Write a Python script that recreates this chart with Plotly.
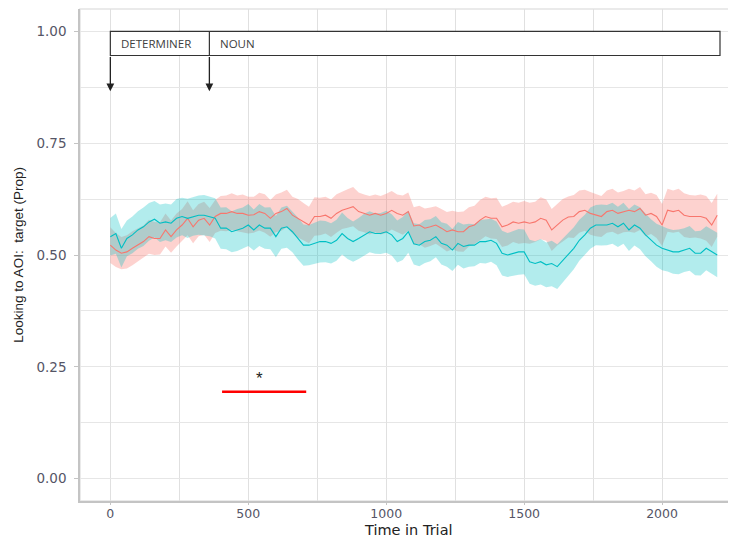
import plotly.graph_objects as go

# ---------------- data ----------------
time_ms = list(range(0, 2201, 20))

red_mean = [0.522, 0.511, 0.504, 0.507, 0.515, 0.522, 0.530, 0.541, 0.537, 0.537, 0.556,
            0.541, 0.556, 0.567, 0.582, 0.563, 0.578, 0.582, 0.567, 0.586, 0.593,
            0.593, 0.597, 0.593, 0.593, 0.589, 0.590, 0.597, 0.593, 0.582, 0.593,
            0.597, 0.604, 0.589, 0.582, 0.574, 0.567, 0.586, 0.586, 0.589, 0.582,
            0.593, 0.600, 0.604, 0.608, 0.597, 0.593, 0.589, 0.593, 0.589, 0.593,
            0.600, 0.593, 0.589, 0.597, 0.565, 0.567, 0.560, 0.563, 0.567, 0.560,
            0.552, 0.556, 0.552, 0.552, 0.563, 0.567, 0.578, 0.586, 0.582, 0.582,
            0.563, 0.567, 0.574, 0.571, 0.574, 0.571, 0.574, 0.582, 0.578, 0.556,
            0.567, 0.578, 0.585, 0.586, 0.597, 0.600, 0.593, 0.589, 0.586, 0.597,
            0.600, 0.593, 0.597, 0.600, 0.597, 0.604, 0.589, 0.593, 0.586, 0.567,
            0.600, 0.597, 0.600, 0.589, 0.586, 0.586, 0.586, 0.582, 0.567, 0.589]

teal_mean = [0.541, 0.548, 0.515, 0.537, 0.545, 0.556, 0.563, 0.574, 0.580, 0.571, 0.574,
             0.571, 0.582, 0.586, 0.582, 0.586, 0.589, 0.589, 0.586, 0.582, 0.560,
             0.560, 0.552, 0.556, 0.560, 0.567, 0.556, 0.567, 0.560, 0.560, 0.541,
             0.560, 0.563, 0.552, 0.537, 0.522, 0.522, 0.526, 0.530, 0.530, 0.526,
             0.533, 0.548, 0.537, 0.530, 0.537, 0.545, 0.552, 0.548, 0.548, 0.552,
             0.545, 0.530, 0.537, 0.552, 0.525, 0.522, 0.530, 0.533, 0.541, 0.526,
             0.522, 0.511, 0.526, 0.519, 0.522, 0.522, 0.530, 0.530, 0.533, 0.526,
             0.504, 0.500, 0.504, 0.507, 0.507, 0.485, 0.481, 0.485, 0.478, 0.481,
             0.474, 0.487, 0.500, 0.515, 0.533, 0.545, 0.560, 0.567, 0.567, 0.567,
             0.571, 0.563, 0.571, 0.556, 0.567, 0.560, 0.545, 0.533, 0.522, 0.515,
             0.511, 0.507, 0.507, 0.511, 0.515, 0.504, 0.504, 0.515, 0.507, 0.500]

red_se = [0.040, 0.038, 0.036, 0.037, 0.038, 0.037, 0.036, 0.038, 0.037, 0.036, 0.037,
          0.036, 0.037, 0.036, 0.038, 0.037, 0.036, 0.037, 0.038, 0.037, 0.039,
          0.040, 0.041, 0.040, 0.042, 0.041, 0.040, 0.042, 0.043, 0.041, 0.042,
          0.043, 0.042, 0.041, 0.043, 0.042, 0.041, 0.043, 0.042, 0.041, 0.042,
          0.043, 0.042, 0.043, 0.044, 0.043, 0.042, 0.043, 0.042, 0.043, 0.044,
          0.043, 0.042, 0.044, 0.043, 0.042, 0.043, 0.044, 0.043, 0.042, 0.043,
          0.044, 0.043, 0.044, 0.045, 0.044, 0.043, 0.045, 0.044, 0.045, 0.046,
          0.045, 0.046, 0.045, 0.046, 0.047, 0.046, 0.045, 0.047, 0.046, 0.047,
          0.046, 0.047, 0.046, 0.048, 0.047, 0.046, 0.048, 0.047, 0.046, 0.047,
          0.048, 0.047, 0.046, 0.048, 0.047, 0.048, 0.047, 0.046, 0.048, 0.047,
          0.048, 0.047, 0.048, 0.049, 0.048, 0.047, 0.049, 0.050, 0.049, 0.048]

teal_se = [0.042, 0.045, 0.043, 0.040, 0.041, 0.042, 0.043, 0.042, 0.041, 0.042, 0.041,
           0.042, 0.043, 0.042, 0.044, 0.043, 0.044, 0.045, 0.044, 0.045, 0.046,
           0.047, 0.046, 0.047, 0.046, 0.047, 0.046, 0.047, 0.046, 0.047, 0.046,
           0.046, 0.047, 0.046, 0.047, 0.046, 0.045, 0.046, 0.047, 0.046, 0.045,
           0.046, 0.047, 0.046, 0.045, 0.046, 0.047, 0.046, 0.045, 0.046, 0.047,
           0.046, 0.047, 0.048, 0.047, 0.046, 0.047, 0.048, 0.047, 0.046, 0.047,
           0.048, 0.047, 0.048, 0.049, 0.048, 0.047, 0.048, 0.049, 0.048, 0.049,
           0.050, 0.049, 0.050, 0.051, 0.050, 0.049, 0.050, 0.051, 0.050, 0.051,
           0.050, 0.049, 0.048, 0.047, 0.046, 0.045, 0.046, 0.045, 0.046, 0.045,
           0.046, 0.045, 0.046, 0.047, 0.046, 0.047, 0.048, 0.047, 0.048, 0.049,
           0.048, 0.049, 0.050, 0.049, 0.050, 0.049, 0.050, 0.049, 0.050, 0.050]

x_ticks = [0, 500, 1000, 1500, 2000]
y_ticks = [0.0, 0.25, 0.5, 0.75, 1.0]
y_tick_labels = ["0.00", "0.25", "0.50", "0.75", "1.00"]

x_title = "Time in Trial"
y_title = "Looking to AOI:  target (Prop)"

# annotation positions (data units)
word_labels = ["DETERMINER", "NOUN"]
word_onsets = [0, 359]
box_end = 2210
box_top, box_bottom = 1.0, 0.946
arrow_tip = 0.866
sig_start, sig_end, sig_y = 405, 710, 0.194
star_x, star_y = 540, 0.225

RED = "#F8766D"
TEAL = "#00BFC4"
TICK_FONT = "DejaVu Sans, Liberation Sans, sans-serif"

fig = go.Figure()

def add_series(mean, se, fill):
    upper = [m + s for m, s in zip(mean, se)]
    lower = [m - s for m, s in zip(mean, se)]
    fig.add_trace(go.Scatter(x=time_ms, y=upper, mode="lines", line=dict(width=0),
                             showlegend=False, hoverinfo="skip"))
    fig.add_trace(go.Scatter(x=time_ms, y=lower, mode="lines", line=dict(width=0),
                             fill="tonexty", fillcolor=fill, showlegend=False, hoverinfo="skip"))

add_series(red_mean, red_se, "rgba(248,118,109,0.33)")
add_series(teal_mean, teal_se, "rgba(0,191,196,0.30)")
fig.add_trace(go.Scatter(x=time_ms, y=red_mean, mode="lines", line=dict(color=RED, width=1.1),
                         showlegend=False))
fig.add_trace(go.Scatter(x=time_ms, y=teal_mean, mode="lines", line=dict(color=TEAL, width=1.1),
                         showlegend=False))

# significance bar
fig.add_trace(go.Scatter(x=[sig_start, sig_end], y=[sig_y, sig_y], mode="lines",
                         line=dict(color="#FF0000", width=2.5), showlegend=False))

shapes = []
shapes.append(dict(type="rect", xref="x", yref="y", x0=word_onsets[0], x1=box_end,
                   y0=box_bottom, y1=box_top, line=dict(color="#333333", width=1.2),
                   fillcolor="rgba(255,255,255,1)", layer="above"))
shapes.append(dict(type="line", xref="x", yref="y", x0=word_onsets[1], x1=word_onsets[1],
                   y0=box_bottom, y1=box_top, line=dict(color="#333333", width=1.2)))
shapes.append(dict(type="rect", xref="paper", yref="paper", x0=0, x1=1.01, y0=0, y1=1,
                   line=dict(color="#e3e3e3", width=1.5), layer="below"))

annotations = []
for lbl, onset in zip(word_labels, word_onsets):
    annotations.append(dict(x=onset + 32, y=(box_top + box_bottom) / 2, xref="x", yref="y",
                            text=lbl, showarrow=False, xanchor="left", yanchor="middle",
                            font=dict(family="Open Sans, Liberation Sans, sans-serif",
                                      size=11.5, color="#404040")))
    annotations.append(dict(x=onset, y=arrow_tip, ax=onset, ay=box_bottom, xref="x", yref="y",
                            axref="x", ayref="y", text="", showarrow=True, arrowhead=2,
                            arrowsize=1.2, arrowwidth=1.3, arrowcolor="#222222"))
annotations.append(dict(x=star_x, y=star_y, xref="x", yref="y", text="*", showarrow=False,
                        font=dict(family="Liberation Sans, Arial", size=17, color="#222222")))
# axis titles
annotations.append(dict(x=0.5, y=-0.058, xref="paper", yref="paper", text=x_title,
                        showarrow=False, xanchor="center", yanchor="middle",
                        font=dict(family=TICK_FONT, size=14.5, color="#222222")))
annotations.append(dict(x=-0.095, y=0.5, xref="paper", yref="paper", text=y_title,
                        showarrow=False, textangle=-90, xanchor="center", yanchor="middle",
                        font=dict(family="Liberation Sans, Arial", size=13.5, color="#222222")))

# The page body has an 8px margin, so the figure is offset by 8px in both directions.
fig.update_layout(
    width=728, height=529,
    margin=dict(l=72, r=0, t=1, b=36, autoexpand=False),
    paper_bgcolor="white", plot_bgcolor="white",
    font=dict(family="Liberation Sans, Arial, sans-serif"),
    shapes=shapes, annotations=annotations,
    xaxis=dict(range=[-110, 2268], tickvals=x_ticks, ticktext=[str(v) for v in x_ticks],
               showgrid=True, gridcolor="#e0e0e0", gridwidth=1.3,
               minor=dict(dtick=250, tick0=0, showgrid=True, gridcolor="#e0e0e0", gridwidth=1.3,
                          ticklen=0),
               showline=True, linecolor="#c4c4c4", linewidth=1.5,
               ticks="outside", ticklen=2, tickcolor="#c4c4c4", ticklabelstandoff=-2,
               tickfont=dict(family=TICK_FONT, size=12.5, color="#555566"), zeroline=False,
               automargin=False),
    yaxis=dict(range=[-0.05, 1.05], tickvals=y_ticks, ticktext=y_tick_labels,
               showgrid=True, gridcolor="#e6e6e6", gridwidth=1.3,
               minor=dict(dtick=0.125, tick0=0, showgrid=True, gridcolor="#e6e6e6", gridwidth=1.3,
                          ticklen=0),
               showline=True, linecolor="#c4c4c4", linewidth=1.5,
               ticks="outside", ticklen=4, tickcolor="#c4c4c4", ticklabelstandoff=5,
               tickfont=dict(family=TICK_FONT, size=13.5, color="#555566"), zeroline=False,
               automargin=False),
)

fig.write_html("out.html")
